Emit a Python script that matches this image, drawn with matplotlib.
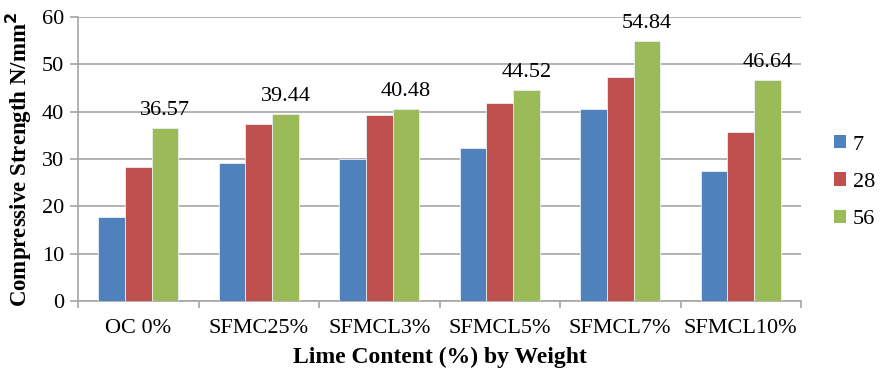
import numpy as np
import matplotlib
matplotlib.use("Agg")
import matplotlib.pyplot as plt

categories = ["OC 0%", "SFMC25%", "SFMCL3%", "SFMCL5%", "SFMCL7%", "SFMCL10%"]
series_names = ["7", "28", "56"]
days_7 = [17.8, 29.1, 30.1, 32.3, 40.6, 27.5]
days_28 = [28.4, 37.5, 39.3, 41.8, 47.3, 35.6]
days_56 = [36.57, 39.44, 40.48, 44.52, 54.84, 46.64]
colors = ["#4F81BD", "#C0504D", "#9BBB59"]

plt.rcParams["font.family"] = ["Liberation Serif", "DejaVu Serif"]

fig = plt.figure(figsize=(8.8, 3.71), dpi=100)
ax = fig.add_axes([78 / 880, 1 - 301 / 371, (801 - 78) / 880, (301 - 17) / 371])

x = np.arange(len(categories))
width = 0.222
for i, (vals, name, c) in enumerate(zip([days_7, days_28, days_56], series_names, colors)):
    ax.bar(x + (i - 1) * width, vals, width, color=c, label=name,
           edgecolor="#e8eef5", linewidth=0.6, zorder=3)

for xi, v in zip(x, days_56):
    ax.annotate(f"{v:.2f}", (xi + width, v), xytext=(0, 6), textcoords="offset points",
                ha="center", va="bottom", fontsize=16)

ax.set_xlim(-0.5, len(categories) - 0.5)
ax.set_ylim(0, 60)
ax.set_yticks(range(0, 61, 10))
ax.yaxis.grid(True, color="#a6a6a6", linewidth=1.2, zorder=0)
ax.set_axisbelow(True)

ax.set_xticks(np.arange(-0.5, len(categories), 1.0))
ax.set_xticklabels([])
ax.set_xticks(x, minor=True)
ax.set_xticklabels(categories, minor=True, fontsize=16)
ax.tick_params(axis="x", which="minor", length=0, pad=13)
ax.tick_params(axis="x", which="major", length=5, color="#a6a6a6", width=1.2)
ax.tick_params(axis="y", length=6, color="#a6a6a6", width=1.2, labelsize=16, pad=4)

for s in ["top", "right"]:
    ax.spines[s].set_visible(False)
for s in ["left", "bottom"]:
    ax.spines[s].set_color("#a6a6a6")
    ax.spines[s].set_linewidth(1.2)

ax.set_ylabel("Compressive Strength N/mm$^\\mathbf{2}$", fontsize=16.5, fontweight="bold", labelpad=6)
ax.set_xlabel("Lime Content (%) by Weight", fontsize=17, fontweight="bold", labelpad=6)

leg = fig.legend(loc="upper left", bbox_to_anchor=(834 / 880, 1 - 135 / 371), frameon=False,
                 fontsize=16, handlelength=0.55, handleheight=0.55, handletextpad=0.3,
                 labelspacing=0.8, borderpad=0, borderaxespad=0)
for h in leg.legend_handles:
    h.set_edgecolor("none")

fig.savefig("out.png", dpi=100)
